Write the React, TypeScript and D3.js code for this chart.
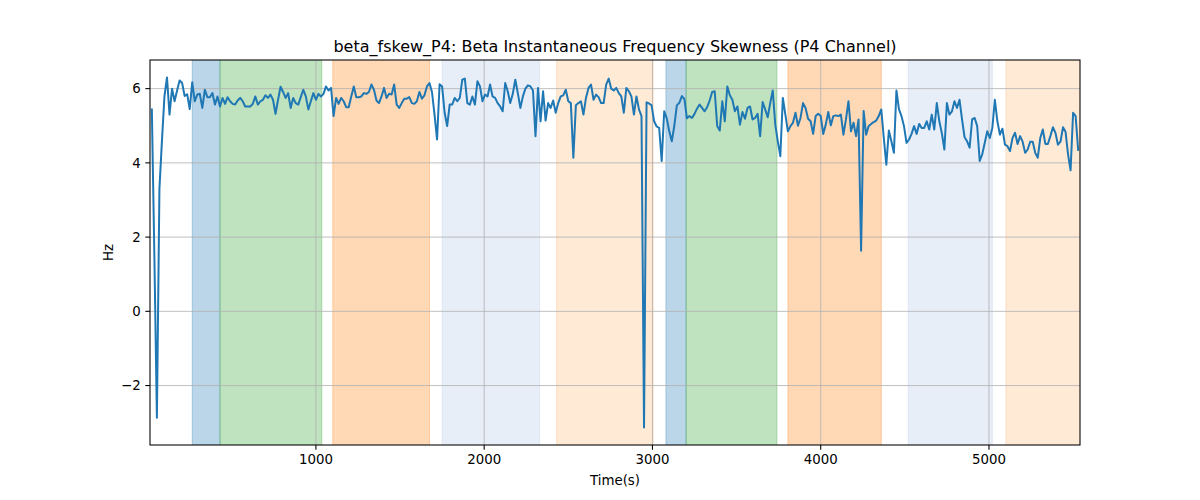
import React from 'react';
import * as d3 from 'd3';

// sampling grid of the feature (seconds)
const timeStart = 25;
const timeStep = 15;
const xDomain: [number, number] = [14, 5541];

const skewValues: number[] = [
  5.44, 1.5, -2.87, 3.3, 4.6, 5.8, 6.3, 5.3, 6.0, 5.66,
  5.95, 6.22, 6.15, 5.8, 5.85, 5.45, 6.17, 5.66, 5.84, 5.86,
  5.48, 5.97, 5.77, 5.77, 5.88, 5.57, 5.79, 5.52, 5.75, 5.59,
  5.77, 5.66, 5.59, 5.57, 5.68, 5.75, 5.66, 5.52, 5.52, 5.52,
  5.59, 5.79, 5.57, 5.66, 5.7, 5.82, 5.75, 5.84, 5.7, 5.32,
  5.7, 6.05, 5.91, 5.75, 5.88, 5.48, 5.75, 5.61, 5.57, 5.77,
  5.97, 5.79, 5.44, 5.66, 5.88, 5.7, 5.86, 5.79, 5.86, 6.06,
  5.95, 6.02, 5.26, 5.75, 5.59, 5.75, 5.66, 5.5, 5.5, 5.79,
  6.06, 5.77, 5.77, 5.79, 5.88, 5.86, 5.91, 6.11, 5.97, 5.68,
  5.61, 5.79, 6.02, 5.75, 5.86, 5.84, 6.11, 5.57, 5.48, 5.61,
  5.73, 5.73, 5.77, 5.61, 5.59, 5.66, 5.91, 5.73, 5.82, 6.06,
  6.15, 5.9, 5.3, 4.63, 6.12, 6.06, 5.35, 4.99, 5.57, 5.57,
  5.75, 5.66, 5.75, 6.24, 6.27, 5.61, 5.57, 5.79, 5.57, 6.2,
  6.06, 5.66, 5.84, 5.79, 6.11, 5.79, 5.75, 5.61, 5.52, 5.39,
  6.15, 5.93, 5.61, 5.86, 6.24, 5.88, 5.48, 5.79, 6.0, 6.09,
  6.06, 5.95, 4.72, 6.02, 5.12, 5.93, 5.14, 5.61, 5.48, 5.68,
  5.35, 5.61, 5.79, 5.82, 5.97, 5.66, 5.61, 4.14, 5.55, 5.61,
  5.66, 5.3, 5.75, 6.02, 6.11, 5.7, 5.84, 5.77, 5.61, 5.61,
  6.11, 6.27, 6.0, 5.95, 6.02, 5.88, 5.79, 5.35, 6.02, 5.93,
  5.79, 5.3, 5.79, 5.44, 5.26, -3.13, 5.63, 5.6, 5.55, 5.12,
  4.98, 4.94, 4.05, 5.39, 5.2, 4.85, 4.58, 5.0, 5.55, 5.62,
  5.8, 5.72, 5.2, 5.26, 5.21, 5.32, 5.46, 5.57, 5.48, 5.39,
  5.5, 5.68, 5.91, 5.93, 4.99, 4.87, 5.66, 5.12, 6.06, 5.82,
  5.7, 5.39, 5.52, 5.03, 5.37, 5.19, 5.48, 5.52, 5.17, 5.21,
  5.32, 4.72, 5.64, 5.44, 5.23, 5.61, 5.95, 5.03, 4.58, 4.18,
  5.75, 5.3, 4.85, 4.99, 5.08, 5.35, 5.0, 5.21, 5.61, 5.48,
  5.19, 5.12, 4.78, 5.26, 5.32, 5.26, 4.78, 5.03, 5.37, 5.01,
  5.26, 5.28, 5.26, 5.3, 4.76, 5.17, 5.66, 4.85, 5.08, 4.72,
  5.17, 1.63, 5.4, 4.76, 4.99, 5.05, 5.1, 5.14, 5.26, 5.44,
  4.67, 3.95, 4.87, 4.58, 4.27, 5.95, 5.45, 5.26, 4.99, 4.54,
  4.63, 4.78, 4.99, 4.78, 5.05, 4.94, 4.94, 5.12, 4.9, 5.3,
  4.9, 5.61, 5.12, 4.8, 4.36, 5.61, 5.3, 5.39, 5.66, 5.48,
  5.7, 5.17, 4.69, 4.58, 4.41, 5.17, 5.21, 4.99, 4.05, 4.23,
  4.54, 4.85, 4.67, 4.94, 5.7, 5.12, 4.76, 4.92, 4.49, 4.45,
  4.32, 4.67, 4.81, 4.51, 4.72, 4.57, 4.27, 4.36, 4.57, 4.57,
  4.27, 4.14, 4.67, 4.9, 4.51, 4.51, 4.72, 4.96, 4.81, 4.49,
  4.57, 4.96, 4.84, 4.23, 3.8, 5.35, 5.26, 4.35,
];

const times = skewValues.map((_, i) => timeStart + i * timeStep);

// state intervals shaded behind the trace
const bandStarts = [265, 430, 1100, 1750, 2430, 3080, 3200, 3805, 4520, 5100];
const bandEnds = [430, 1035, 1675, 2330, 3005, 3200, 3740, 4360, 5020, 5600];
const bandKinds = ['blue', 'green', 'orange', 'lightblue', 'lightorange', 'blue', 'green', 'orange', 'lightblue', 'lightorange'];

const bandColors: Record<string, string> = {
  blue: '#1f77b4',
  green: '#2ca02c',
  orange: '#ff7f0e',
  lightblue: '#aec7e8',
  lightorange: '#ffbb78',
};

const xTicks = [1000, 2000, 3000, 4000, 5000];
const yTicks = [-2, 0, 2, 4, 6];

const W = 1200;
const H = 500;
const margin = { top: 60, right: 120, bottom: 55, left: 150 };
const FONT = 'DejaVu Sans, sans-serif';

export default function App() {
  const innerW = W - margin.left - margin.right;
  const innerH = H - margin.top - margin.bottom;

  const x = d3.scaleLinear().domain(xDomain).range([0, innerW]);

  const [lo, hi] = d3.extent(skewValues) as [number, number];
  const pad = (hi - lo) * 0.05;
  const y = d3.scaleLinear().domain([lo - pad, hi + pad]).range([innerH, 0]);

  const line = d3
    .line<number>()
    .x((_, i) => x(times[i]))
    .y(d => y(d));

  const fmt = (v: number) => (v < 0 ? '\u2212' + Math.abs(v) : String(v));

  return (
    <svg width={W} height={H} style={{ display: 'block', margin: -8 }} fontFamily={FONT}>
      <rect width={W} height={H} fill="#fff" />
      <defs>
        <clipPath id="plot-area">
          <rect width={innerW} height={innerH} />
        </clipPath>
      </defs>
      <text x={margin.left + innerW / 2} y={52} textAnchor="middle" fontSize={16} fill="#000">
        beta_fskew_P4: Beta Instantaneous Frequency Skewness (P4 Channel)
      </text>
      <g transform={`translate(${margin.left},${margin.top})`}>
        <g clipPath="url(#plot-area)">
          {bandStarts.map((s, i) => {
            const x0 = x(s);
            const x1 = Math.min(x(bandEnds[i]), innerW + 2);
            return (
              <rect
                key={i}
                x={x0}
                y={-1}
                width={x1 - x0}
                height={innerH + 2}
                fill={bandColors[bandKinds[i]]}
                fillOpacity={0.3}
                stroke={bandColors[bandKinds[i]]}
                strokeOpacity={0.3}
                strokeWidth={1}
              />
            );
          })}
          {/* grid */}
          {xTicks.map(t => (
            <line key={'gx' + t} x1={x(t)} x2={x(t)} y1={0} y2={innerH} stroke="#b0b0b0" strokeWidth={0.8} />
          ))}
          {yTicks.map(t => (
            <line key={'gy' + t} x1={0} x2={innerW} y1={y(t)} y2={y(t)} stroke="#b0b0b0" strokeWidth={0.8} />
          ))}
          <path d={line(skewValues) ?? ''} fill="none" stroke="#1f77b4" strokeWidth={2} strokeLinejoin="round" strokeLinecap="square" />
        </g>

        {/* spines */}
        <rect x={0} y={0} width={innerW} height={innerH} fill="none" stroke="#000" strokeWidth={1.07} />

        {/* x axis */}
        {xTicks.map(t => (
          <g key={'xt' + t} transform={`translate(${x(t)},${innerH})`}>
            <line y1={0} y2={4.67} stroke="#000" strokeWidth={1.07} />
            <text y={19} textAnchor="middle" fontSize={13.33} fill="#000">
              {t}
            </text>
          </g>
        ))}
        {/* y axis */}
        {yTicks.map(t => (
          <g key={'yt' + t} transform={`translate(0,${y(t)})`}>
            <line x1={0} x2={-4.67} stroke="#000" strokeWidth={1.07} />
            <text x={-9.3} dy="0.36em" textAnchor="end" fontSize={13.33} fill="#000">
              {fmt(t)}
            </text>
          </g>
        ))}

        <text x={innerW / 2} y={innerH + 40} textAnchor="middle" fontSize={13.33} fill="#000">
          Time(s)
        </text>
        <text transform={`translate(${-37},${innerH / 2}) rotate(-90)`} textAnchor="middle" fontSize={13.33} fill="#000">
          Hz
        </text>
      </g>
    </svg>
  );
}
